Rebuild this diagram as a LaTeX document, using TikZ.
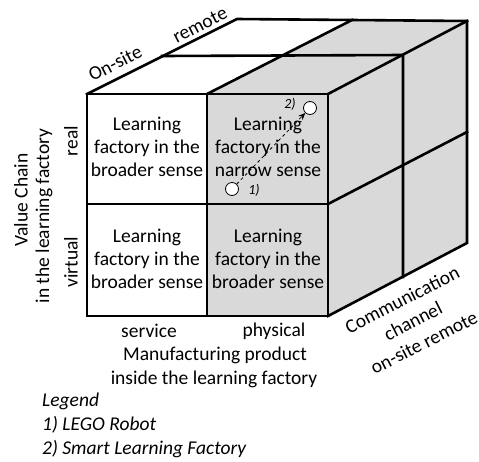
\documentclass[tikz,border=0pt]{standalone}
\usepackage{fontspec}
\setmainfont{Carlito}
\usetikzlibrary{arrows.meta}
\begin{document}
\begin{tikzpicture}[x=1pt,y=-1pt,
  grid/.style={line width=2.6pt, line join=miter, line cap=rect},
  shade/.style={fill=gray!30},
  cell/.style={align=center, font=\fontsize{19.5}{23}\selectfont, inner sep=0pt},
  lab/.style={font=\fontsize{19.5}{24}\selectfont, inner sep=0pt},
  leg/.style={font=\fontsize{19.5}{24}\selectfont\itshape, inner sep=0pt, anchor=west},
  obj/.style={circle, draw, fill=white, minimum size=13pt, inner sep=0pt, line width=0.8pt},
  num/.style={font=\fontsize{14}{16}\selectfont\itshape, inner sep=0pt}]
\useasboundingbox (0,0) rectangle (479,461);
% front face
\coordinate (A) at (87,94);
\coordinate (B) at (207,94);
\coordinate (C) at (328,94);
\coordinate (D) at (87,204);
\coordinate (E) at (207,204);
\coordinate (F) at (328,204);
\coordinate (G) at (87,316);
\coordinate (H) at (207,316);
\coordinate (I) at (328,316);
% top face
\coordinate (TL1) at (162,56);
\coordinate (TL2) at (237,19);
\coordinate (TM2) at (352,20);
\coordinate (TR1) at (403,55);
\coordinate (TR2) at (467,21);
% right face
\coordinate (RM2) at (467,132);
\coordinate (RB1) at (403,277);
\coordinate (RB2) at (467,243);
% fills
\fill[shade] (B) rectangle (I);
\fill[shade] (B) -- (TM2) -- (TR2) -- (C) -- cycle;
\fill[shade] (C) -- (TR2) -- (RB2) -- (I) -- cycle;
% lines
\draw[grid] (A) rectangle (I);
\draw[grid] (B) -- (H);
\draw[grid] (D) -- (F);
\draw[grid] (A) -- (TL2) -- (TR2) -- (RB2) -- (I);
\draw[grid] (B) -- (TM2);
\draw[grid] (C) -- (TR2);
\draw[grid] (TL1) -- (TR1) -- (RB1);
\draw[grid] (F) -- (RM2);
% cell texts
\node[cell] (c11) at (147,147) {Learning\\factory in the\\broader sense};
\node[cell] (c12) at (268,147) {Learning\\factory in the\\narrow sense};
\node[cell] (c21) at (147,259) {Learning\\factory in the\\broader sense};
\node[cell] (c22) at (268,259) {Learning\\factory in the\\broader sense};
% objects
\node[obj] (o1) at (232,189) {};
\node[obj] (o2) at (310,108) {};
\draw[dashed, line width=0.8pt, -{Stealth[length=7pt,width=6pt]}] (o1) -- (o2);
\node[num] (n1) at (254,190) {1)};
\node[num] (n2) at (290,104) {2)};
% top labels
\node[lab, rotate=27] (onsite) at (115,63) {On-site};
\node[lab, rotate=27] (remote) at (200,25) {remote};
% left labels
\node[lab, rotate=90] (real) at (71,141) {real};
\node[lab, rotate=90] (virt) at (71,262) {virtual};
\node[lab, rotate=90] (vc) at (21,200) {Value Chain};
\node[lab, rotate=90] (itlf) at (44,216) {in the learning factory};
% bottom labels
\node[lab] (serv) at (149,331) {service};
\node[lab] (phys) at (274,331) {physical};
\node[lab] (mp) at (215,355) {Manufacturing product};
\node[lab] (inside) at (214,379) {inside the learning factory};
% right labels
\node[lab, rotate=27, align=center] (comm) at (413,321) {Communication\\channel\\on-site remote};
% legend
\node[leg] (lg) at (42,401) {Legend};
\node[leg] (lg1) at (42,425) {1) LEGO Robot};
\node[leg] (lg2) at (42,449) {2) Smart Learning Factory};
\end{tikzpicture}
\end{document}
